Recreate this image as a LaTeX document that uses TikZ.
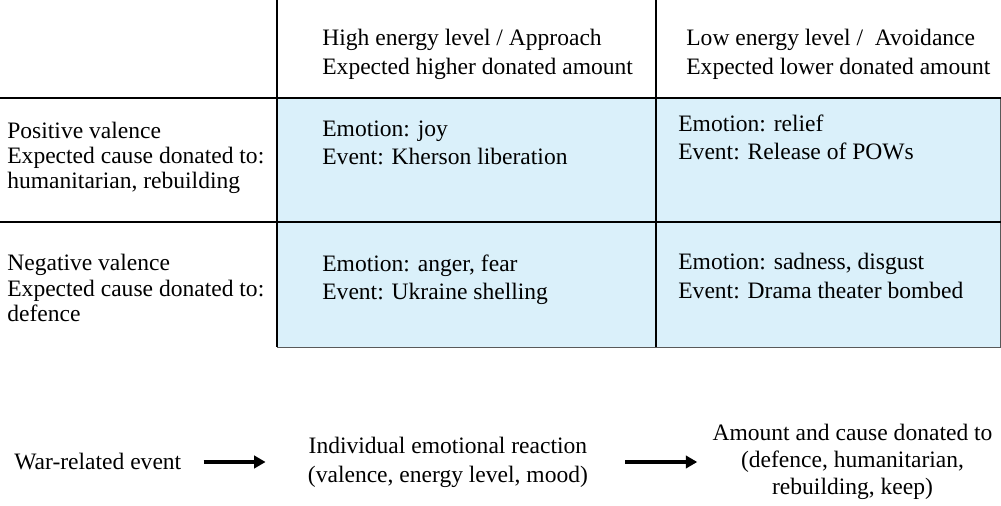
\documentclass[tikz,border=0pt]{standalone}
\usepackage{fontspec}
\setmainfont{Liberation Serif}
\usetikzlibrary{arrows.meta,positioning}
\definecolor{cellblue}{RGB}{218,240,250}
\tikzset{
  %Define standard arrow tip
  >={Triangle[length=6.5pt,width=7pt]},
  %Define style for table texts
  celltxt/.style={
    anchor=west,
    align=left,
    inner sep=0pt,
    font=\fontsize{13.4}{16}\selectfont},
  %Define style for flow texts
  flowtxt/.style={
    align=center,
    inner sep=0pt,
    font=\fontsize{13.4}{16.5}\selectfont},
  % Define grid line style
  gridline/.style={line width=1.2pt, black},
  % Define arrow style
  pil/.style={
    ->,
    line width=2.3pt}
}

\begin{document}
\begin{tikzpicture}[x=0.02cm,y=-0.02cm]
  \useasboundingbox (0,0) rectangle (1001,506);
  % table
  \fill[cellblue] (277,98) rectangle (1000,347);
  \draw[gray!70!black,line width=0.5pt] (1000,98) -- (1000,347) -- (277,347);
  \draw[gridline] (0,98) -- (1001,98) (0,222) -- (1001,222);
  \draw[gridline] (277,0) -- (277,347) (656,0) -- (656,347);
  \node[celltxt,font=\fontsize{13.4}{16.5}\selectfont] (high) at (322,54.5) {High energy level / Approach\\Expected higher donated amount};
  \node[celltxt,font=\fontsize{13.4}{16.5}\selectfont] (low) at (686,54.5) {Low energy level /\ \ Avoidance\\Expected lower donated amount};
  \node[celltxt,font=\fontsize{13.4}{14.4}\selectfont] (pos) at (7,158) {Positive valence\\Expected cause donated to:\\humanitarian, rebuilding};
  \node[celltxt,font=\fontsize{13.4}{14.4}\selectfont] (neg) at (7,288) {Negative valence\\Expected cause donated to:\\defence};
  \node[celltxt] (joy) at (322,143) {Emotion: joy\\Event: Kherson liberation};
  \node[celltxt] (relief) at (678,137.5) {Emotion: relief\\Event: Release of POWs};
  \node[celltxt] (anger) at (322,280) {Emotion: anger, fear\\Event: Ukraine shelling};
  \node[celltxt] (sad) at (678,276) {Emotion: sadness, disgust\\Event: Drama theater bombed};
  % flow
  \node[flowtxt,anchor=west] (event) at (14,462) {War-related event};
  \node[flowtxt,right=2.52cm of event] (reaction) {Individual emotional reaction\\(valence, energy level, mood)};
  \node[flowtxt,right=2.48cm of reaction,font=\fontsize{13.4}{15.4}\selectfont] (amount) {Amount and cause donated to\\(defence, humanitarian,\\rebuilding, keep)};
  \draw[pil,shorten <=0.44cm,shorten >=0.84cm] (event) -- (reaction);
  \draw[pil,shorten <=0.74cm,shorten >=0.3cm] (reaction) -- (amount);
\end{tikzpicture}
\end{document}
